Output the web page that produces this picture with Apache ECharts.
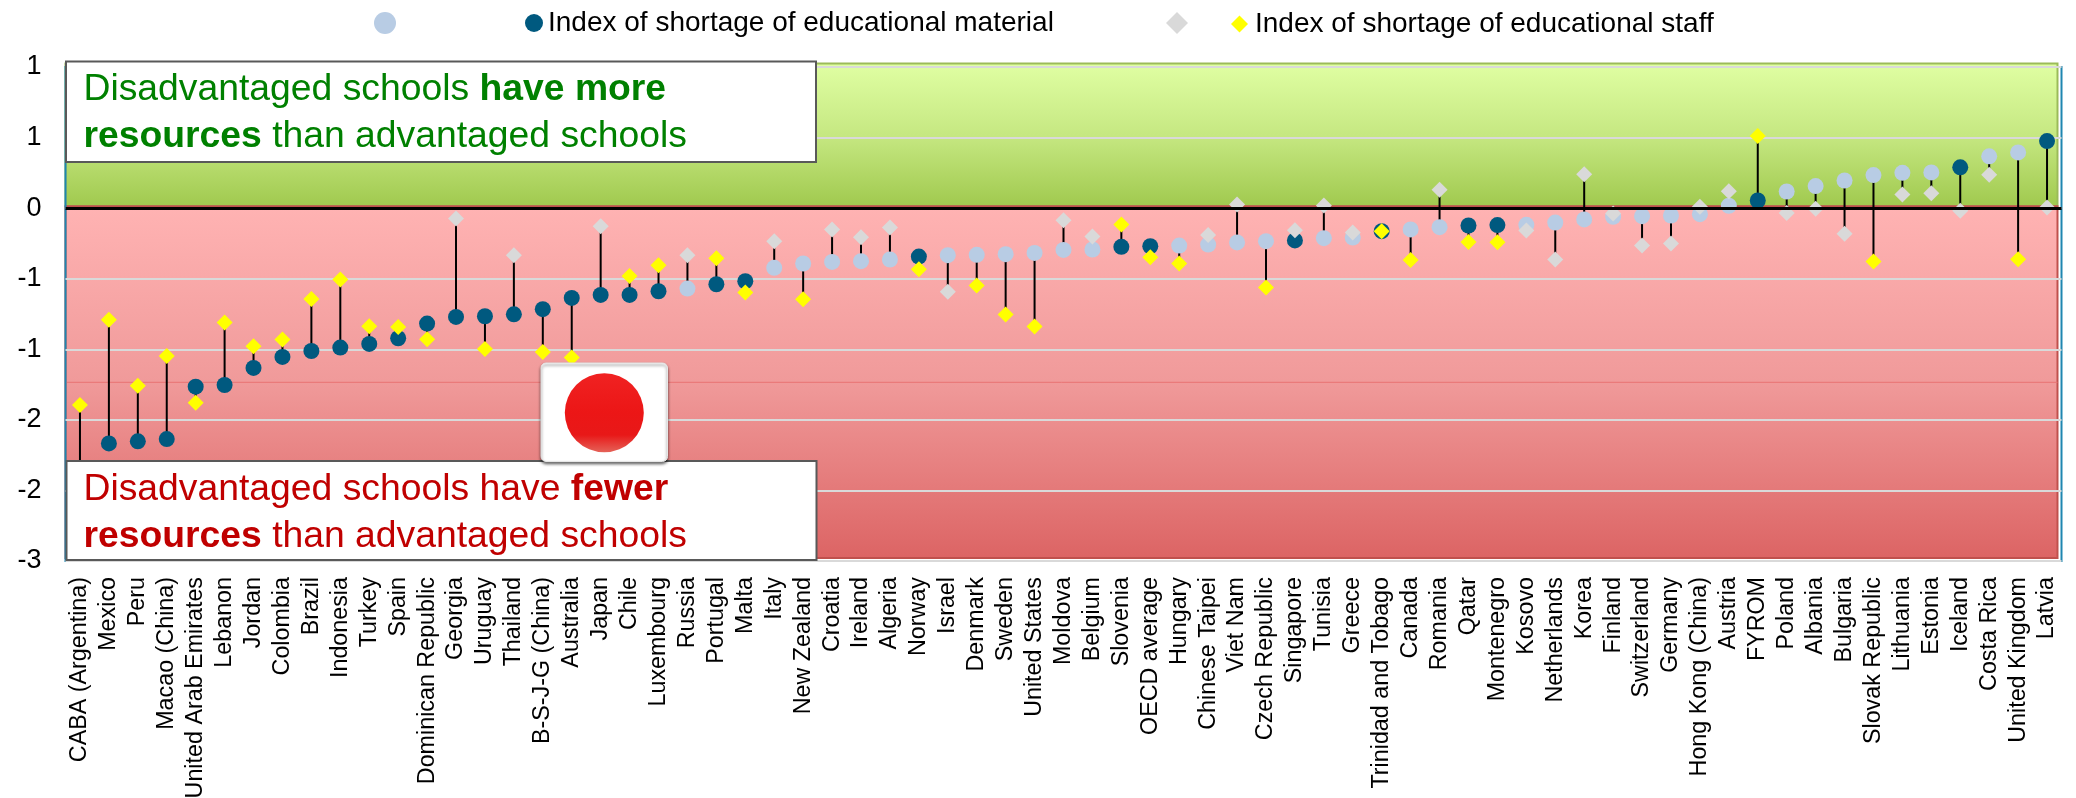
<!DOCTYPE html>
<html>
<head>
<meta charset="utf-8">
<style>html,body{margin:0;padding:0;background:#fff}#c{width:2076px;height:798px}</style>
<script src="https://cdn.jsdelivr.net/npm/echarts@6/dist/echarts.min.js"></script>
</head>
<body>
<div id="c"></div>
<script>
const categories = ["CABA (Argentina)","Mexico","Peru","Macao (China)","United Arab Emirates","Lebanon","Jordan","Colombia","Brazil","Indonesia","Turkey","Spain","Dominican Republic","Georgia","Uruguay","Thailand","B-S-J-G (China)","Australia","Japan","Chile","Luxembourg","Russia","Portugal","Malta","Italy","New Zealand","Croatia","Ireland","Algeria","Norway","Israel","Denmark","Sweden","United States","Moldova","Belgium","Slovenia","OECD average","Hungary","Chinese Taipei","Viet Nam","Czech Republic","Singapore","Tunisia","Greece","Trinidad and Tobago","Canada","Romania","Qatar","Montenegro","Kosovo","Netherlands","Korea","Finland","Switzerland","Germany","Hong Kong (China)","Austria","FYROM","Poland","Albania","Bulgaria","Slovak Republic","Lithuania","Estonia","Iceland","Costa Rica","United Kingdom","Latvia"];
const materialValues = [-2.0,-1.667,-1.652,-1.636,-1.265,-1.253,-1.132,-1.054,-1.012,-0.988,-0.962,-0.922,-0.818,-0.771,-0.766,-0.752,-0.716,-0.636,-0.615,-0.615,-0.589,-0.57,-0.539,-0.518,-0.423,-0.392,-0.381,-0.376,-0.364,-0.343,-0.333,-0.331,-0.326,-0.317,-0.296,-0.293,-0.274,-0.27,-0.265,-0.258,-0.243,-0.234,-0.229,-0.213,-0.208,-0.163,-0.151,-0.135,-0.123,-0.12,-0.118,-0.102,-0.08,-0.061,-0.057,-0.052,-0.043,0.017,0.054,0.118,0.156,0.196,0.234,0.25,0.253,0.289,0.367,0.395,0.475];
const staffValues = [-1.395,-0.79,-1.258,-1.047,-1.378,-0.811,-0.979,-0.931,-0.643,-0.506,-0.837,-0.842,-0.929,-0.073,-0.998,-0.333,-1.019,-1.059,-0.128,-0.48,-0.404,-0.333,-0.355,-0.598,-0.234,-0.645,-0.151,-0.206,-0.137,-0.433,-0.593,-0.548,-0.754,-0.839,-0.085,-0.201,-0.116,-0.348,-0.392,-0.191,0.026,-0.562,-0.156,0.019,-0.172,-0.163,-0.367,0.13,-0.239,-0.241,-0.158,-0.364,0.241,-0.038,-0.265,-0.251,0.009,0.12,0.511,-0.035,-0.005,-0.182,-0.378,0.097,0.106,-0.019,0.236,-0.362,0.005];
const materialSignificant = [1,1,1,1,1,1,1,1,1,1,1,1,1,1,1,1,1,1,1,1,1,0,1,1,0,0,0,0,0,1,0,0,0,0,0,0,1,1,0,0,0,0,1,0,0,1,0,0,1,1,0,0,0,0,0,0,0,0,1,0,0,0,0,0,0,1,0,0,1];
const staffSignificant = [1,1,1,1,1,1,1,1,1,1,1,1,1,0,1,0,1,1,0,1,1,0,1,1,0,1,0,0,0,1,0,1,1,1,0,0,1,1,1,0,0,1,0,0,0,1,1,0,1,1,0,0,0,0,0,0,0,0,1,0,0,0,1,0,0,0,0,1,0];
const yTickLabels = {"1":"1","0.5":"1","0":"0","-0.5":"-1","-1":"-1","-1.5":"-2","-2":"-2","-2.5":"-3"};
const yMin = -2.5, yMax = 1, yStep = 0.5;
const faintLineValue = -1.234;
const materialName = "Index of shortage of educational material";
const staffName = "Index of shortage of educational staff";

const FONT = '"Liberation Sans", Arial, sans-serif';
const C = {dark:'#00597F', light:'#B8CCE4', grey:'#D9D9D9', yellow:'#FFFF00'};

function pick(values, flags, want){ return values.map((v,i)=> flags[i]===want ? [i,v] : null).filter(Boolean); }

function bandItem(params, api){
  const cs = params.coordSys, right = cs.x + cs.width - 4;
  const a = api.coord([0, api.value(1)])[1], b = api.coord([0, api.value(2)])[1];
  const i = params.dataIndex;
  if(i===0){
    return {type:'rect', shape:{x:cs.x, y:a-3.5, width:right-cs.x, height:b-a+1.5},
      style:{fill:new echarts.graphic.LinearGradient(0,0,0,1,[{offset:0,color:'#E0FFA3'},{offset:0.5,color:'#C6E882'},{offset:1,color:'#A0C94E'}]), stroke:'#9BBB59', lineWidth:2}};
  }
  if(i===1){
    return {type:'rect', shape:{x:cs.x, y:a-2, width:right-cs.x, height:b-a-1},
      style:{fill:new echarts.graphic.LinearGradient(0,0,0,1,[{offset:0,color:'#FFB3B3'},{offset:0.5,color:'#F09A9A'},{offset:1,color:'#DC6464'}]), stroke:'#C0504D', lineWidth:2}};
  }
  return {type:'line', shape:{x1:cs.x, y1:a, x2:right, y2:a}, style:{stroke:'#E87474', lineWidth:1}};
}
function stemItem(params, api){
  const x = api.value(0);
  const p = api.coord([x, api.value(1)]), q = api.coord([x, api.value(2)]);
  return {type:'line', shape:{x1:p[0], y1:p[1], x2:q[0], y2:q[1]}, style:{stroke:'#000', lineWidth:2}};
}
function legend(name, left, top, w, h, padLeft){
  return {show:true, selectedMode:false, data:[name], left:left, top:top, itemWidth:w, itemHeight:h, padding:0,
    textStyle:{fontFamily:FONT, fontSize:28, color:'#000', padding:[0,0,0,padLeft||0]}};
}
function bandText(text, color, y){
  return {type:'text', z:21, x:83.5, y:y,
    style:{text:text, fill:color, font:'37.3px '+FONT, lineHeight:47,
      rich:{b:{fontWeight:'bold', fontSize:37.3, fontFamily:FONT, fill:color, lineHeight:47}, n:{fontSize:37.3, fontFamily:FONT, fill:color, lineHeight:47}}}};
}

const chart = echarts.init(document.getElementById('c'), null, {renderer:'canvas'});
chart.setOption({
  animation:false,
  backgroundColor:'#fff',
  legend:[
    legend(' ', 374, 9, 22, 22),
    legend(materialName, 525, 9, 18, 18, 0),
    legend('  ', 1166, 9, 22, 22),
    legend(staffName, 1231, 10, 17, 17, 2)
  ],
  grid:{show:true, left:65.5, top:67, width:1996, height:494, outerBoundsMode:'none', containLabel:false, backgroundColor:'transparent', borderColor:'#1F86B0', borderWidth:2, z:1},
  xAxis:{type:'category', data:categories, position:'bottom', axisLine:{show:false}, axisTick:{show:false}, splitLine:{show:false},
    axisLabel:{interval:0, rotate:90, margin:16, fontFamily:FONT, fontSize:23.3, color:'#000'}},
  yAxis:{type:'value', min:yMin, max:yMax, interval:yStep, z:1, axisLine:{show:false}, axisTick:{show:false},
    splitLine:{show:true, lineStyle:{color:'#D9D9D9', width:2}},
    axisLabel:{margin:24, fontFamily:FONT, fontSize:27, color:'#000', formatter:v=>yTickLabels[String(v)]}},
  series:[
    {type:'custom', name:'bands', z:0, silent:true, clip:false, coordinateSystem:'cartesian2d', renderItem:bandItem,
      encode:{x:0,y:[1,2]}, data:[[0,yMax,0],[0,0,yMin],[0,faintLineValue,faintLineValue]]},
    {type:'custom', name:'stems', z:2, silent:true, clip:false, renderItem:stemItem, encode:{x:0,y:[1,2]},
      data:categories.map((_,i)=>[i,materialValues[i],staffValues[i]]),
      markLine:{silent:true, symbol:'none', label:{show:false}, lineStyle:{color:'#000', width:3, type:'solid'}, data:[{yAxis:0}]}},
    {type:'scatter', name:' ', z:3, symbol:'circle', symbolSize:16, itemStyle:{color:C.light, opacity:1}, data:pick(materialValues,materialSignificant,0)},
    {type:'scatter', name:materialName, z:3, symbol:'circle', symbolSize:16, itemStyle:{color:C.dark, opacity:1}, data:pick(materialValues,materialSignificant,1)},
    {type:'scatter', name:'  ', z:4, symbol:'diamond', symbolSize:16, itemStyle:{color:C.grey, opacity:1}, data:pick(staffValues,staffSignificant,0)},
    {type:'scatter', name:staffName, z:4, symbol:'diamond', symbolSize:16, itemStyle:{color:C.yellow, opacity:1}, data:pick(staffValues,staffSignificant,1)}
  ],
  graphic:{elements:[
    {type:'rect', z:20, shape:{x:66,y:61.5,width:750,height:100.5}, style:{fill:'#fff', stroke:'#595959', lineWidth:2}},
    bandText('{n|Disadvantaged schools }{b|have more}\n{b|resources}{n| than advantaged schools}','#008000',66),
    {type:'rect', z:20, shape:{x:66.5,y:461,width:750,height:99}, style:{fill:'#fff', stroke:'#595959', lineWidth:2}},
    bandText('{n|Disadvantaged schools have }{b|fewer}\n{b|resources}{n| than advantaged schools}','#C00000',466),
    {type:'rect', z:22, shape:{x:541,y:363,width:126.5,height:98.5,r:5}, style:{fill:'#fff', stroke:'#E6E6E6', lineWidth:1, shadowBlur:3, shadowOffsetY:2, shadowColor:'rgba(0,0,0,0.6)'}},
    {type:'circle', z:23, shape:{cx:604.3,cy:412.8,r:39.5}, style:{fill:new echarts.graphic.LinearGradient(0,0,0,1,[{offset:0,color:'#F02222'},{offset:0.5,color:'#EC1616'},{offset:0.78,color:'#E81818'},{offset:1,color:'#E56258'}])}}
  ]}
});
</script>
</body>
</html>
